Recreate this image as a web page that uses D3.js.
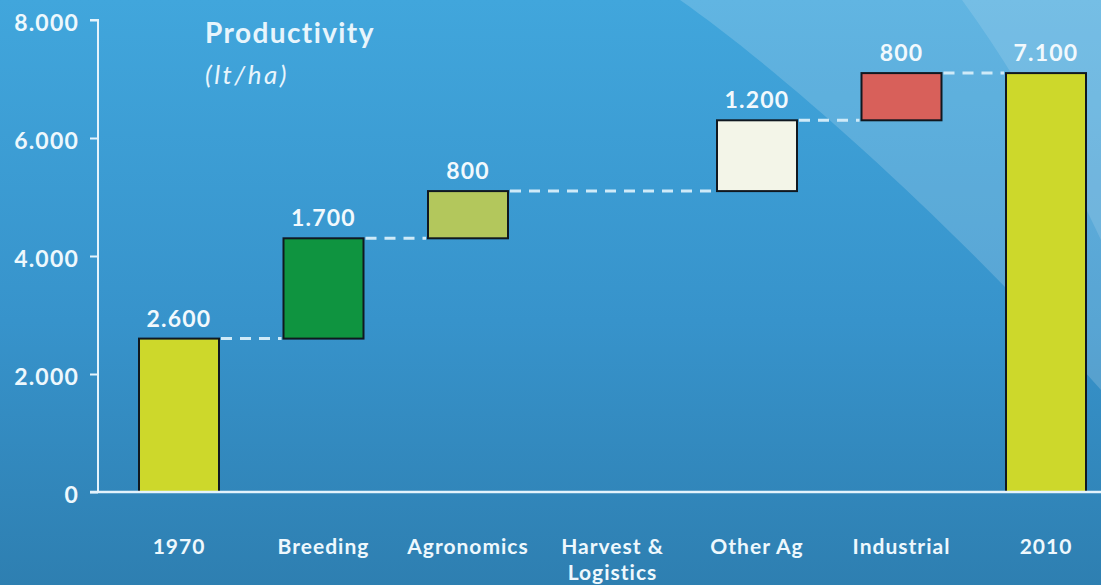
<!DOCTYPE html>
<html>
<head>
<meta charset="utf-8">
<script src="https://cdn.jsdelivr.net/npm/d3@7"></script>
<style>
  html, body { margin: 0; padding: 0; background: #3a94cc; }
  svg { display: block; }
  text { font-family: Lato, "Open Sans", sans-serif; }
</style>
</head>
<body>
<svg id="chart" width="1101" height="585"></svg>
<script>
// Waterfall: productivity build-up from 1970 to 2010 (lt/ha)
const categories = ["1970", "Breeding", "Agronomics", "Harvest & Logistics", "Other Ag", "Industrial", "2010"];
const categoryLines = [["1970"], ["Breeding"], ["Agronomics"], ["Harvest &", "Logistics"], ["Other Ag"], ["Industrial"], ["2010"]];
const values = [2600, 1700, 800, 0, 1200, 800, 7100];
const kinds = ["total", "delta", "delta", "delta", "delta", "delta", "total"];
const barColors = ["#cdd82b", "#0f9440", "#b3c75c", "#cccccc", "#f3f5e8", "#d8605a", "#cdd82b"];
const yTicks = [0, 2000, 4000, 6000, 8000];

const W = 1101, H = 585;
const svg = d3.select("#chart");

const locale = d3.formatLocale({ decimal: ",", thousands: ".", grouping: [3], currency: ["", ""] });
const fmt = locale.format(",");

// background
const defs = svg.append("defs");
const bg = defs.append("linearGradient").attr("id", "bg").attr("x1", 0).attr("y1", 0).attr("x2", 0).attr("y2", 1);
bg.append("stop").attr("offset", "0%").attr("stop-color", "#41a6dc");
bg.append("stop").attr("offset", "55%").attr("stop-color", "#3793cb");
bg.append("stop").attr("offset", "100%").attr("stop-color", "#2e7fb1");
svg.append("rect").attr("width", W).attr("height", H).attr("fill", "url(#bg)");

// light sweeps in the upper right
svg.append("path")
  .attr("d", "M680,0 C780,70 950,220 1101,390 L1101,0 Z")
  .attr("fill", "#ffffff").attr("fill-opacity", 0.17);
svg.append("path")
  .attr("d", "M962,0 Q1035,100 1101,240 L1101,0 Z")
  .attr("fill", "#ffffff").attr("fill-opacity", 0.13);

// scales
const x = d3.scalePoint().domain(categories).range([179, 1046]);
const y = d3.scaleLinear().domain([0, 8000]).range([492, 20]);
const barW = 80;

// build waterfall segments
let running = 0;
const segs = categories.map((c, i) => {
  let lo, hi;
  if (kinds[i] === "total") { lo = 0; hi = values[i]; running = values[i]; }
  else { lo = running; hi = running + values[i]; running = hi; }
  return { cat: c, lo, hi, value: values[i], color: barColors[i], i };
});
const drawn = segs.filter(s => s.value !== 0);

const axisColor = "#e4f3fc";
const textColor = "#eef8fd";

// y axis
const yAxis = svg.append("g").attr("transform", "translate(98,0)")
  .call(d3.axisLeft(y).tickValues(yTicks).tickSize(8).tickPadding(11).tickFormat(d => fmt(d)));
yAxis.select(".domain").attr("stroke", axisColor).attr("stroke-width", 2).attr("d", `M-8,${y(8000)}H0V${y(0)}`);
yAxis.selectAll(".tick line").attr("stroke", axisColor).attr("stroke-width", 2);
yAxis.selectAll(".tick text")
  .attr("fill", textColor).attr("font-size", 23).attr("font-weight", 700)
  .attr("letter-spacing", 1.2).attr("dy", "0.45em")
  .attr("font-family", "Lato, sans-serif");

// connectors between consecutive bars
const conn = [];
for (let k = 1; k < drawn.length; k++) {
  const a = drawn[k - 1], b = drawn[k];
  const level = b.lo === 0 ? b.hi : b.lo;
  conn.push({ x1: x(a.cat) + barW / 2, x2: x(b.cat) - barW / 2, level });
}
svg.append("g").selectAll("line").data(conn).join("line")
  .attr("x1", d => d.x1 + 2).attr("x2", d => d.x2 - 2)
  .attr("y1", d => y(d.level)).attr("y2", d => y(d.level))
  .attr("stroke", "#cfeaf8").attr("stroke-width", 3).attr("stroke-dasharray", "11,8");

// bars
svg.append("g").selectAll("rect").data(drawn).join("rect")
  .attr("x", d => x(d.cat) - barW / 2)
  .attr("y", d => y(d.hi))
  .attr("width", barW)
  .attr("height", d => y(d.lo) - y(d.hi))
  .attr("fill", d => d.color)
  .attr("stroke", "#101820").attr("stroke-width", 2);

// x axis line
svg.append("line").attr("x1", 90).attr("x2", W).attr("y1", y(0)).attr("y2", y(0))
  .attr("stroke", axisColor).attr("stroke-width", 2.5);

// value labels
svg.append("g").selectAll("text").data(drawn).join("text")
  .attr("x", d => x(d.cat))
  .attr("y", d => y(d.hi) - 12)
  .attr("text-anchor", "middle")
  .attr("fill", "#f2f9fd").attr("font-size", 23).attr("font-weight", 700)
  .attr("letter-spacing", 1.2)
  .text(d => fmt(d.value));

// category labels
const catG = svg.append("g").selectAll("text").data(categories).join("text")
  .attr("x", d => x(d))
  .attr("y", 554)
  .attr("text-anchor", "middle")
  .attr("fill", textColor).attr("font-size", 21).attr("font-weight", 700)
  .attr("letter-spacing", 1);
catG.each(function (d, i) {
  const t = d3.select(this);
  categoryLines[i].forEach((ln, j) => {
    t.append("tspan").attr("x", x(d)).attr("dy", j === 0 ? 0 : 26).text(ln);
  });
});

// title
svg.append("text").attr("x", 205).attr("y", 43)
  .attr("fill", "#e8f5fc").attr("font-size", 28).attr("font-weight", 700)
  .attr("letter-spacing", 1.4)
  .text("Productivity");
svg.append("text").attr("x", 205).attr("y", 84)
  .attr("fill", "#e8f5fc").attr("font-size", 26).attr("font-style", "italic")
  .attr("letter-spacing", 2.5)
  .text("(lt/ha)");
</script>
</body>
</html>
